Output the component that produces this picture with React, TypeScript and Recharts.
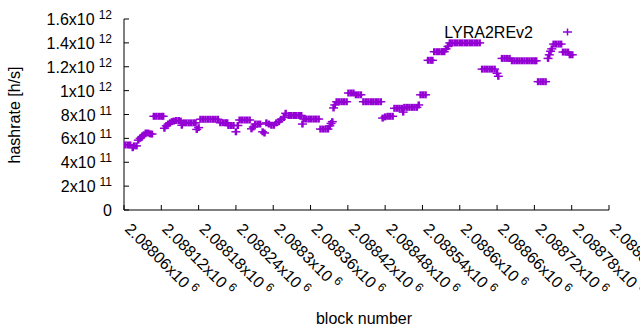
import React from 'react';
import { ScatterChart, Scatter, XAxis, YAxis } from 'recharts';

// gnuplot default first colour
const purple = '#9400d3';

// block numbers and the hashrate (h/s)
const blocks = [
  2088062, 2088066, 2088070, 2088074, 2088076, 2088080,
  2088083, 2088086, 2088089, 2088092, 2088095, 2088099, 2088102, 2088105,
  2088108, 2088112, 2088116, 2088120, 2088123,
  2088125, 2088128, 2088131,
  2088134, 2088137, 2088140, 2088144, 2088148, 2088151, 2088153,
  2088156, 2088160, 2088164, 2088168, 2088172, 2088175,
  2088177, 2088180,
  2088183, 2088187, 2088191, 2088195, 2088199, 2088203, 2088207, 2088211,
  2088215, 2088219, 2088223, 2088226,
  2088228, 2088232, 2088236, 2088240, 2088243,
  2088246, 2088250, 2088254, 2088258, 2088262,
  2088265, 2088268,
  2088271, 2088275, 2088279,
  2088283, 2088286,
  2088289, 2088293, 2088297, 2088301, 2088305, 2088309,
  2088313, 2088317, 2088320,
  2088325, 2088329, 2088333, 2088337, 2088341, 2088345, 2088347,
  2088349, 2088353, 2088357, 2088361, 2088365, 2088369, 2088373,
  2088376, 2088380, 2088384, 2088388,
  2088391, 2088393, 2088395, 2088397, 2088399,
  2088402, 2088406, 2088410, 2088414, 2088418,
  2088421, 2088425, 2088429, 2088433, 2088437, 2088441,
  2088445, 2088449, 2088453, 2088457, 2088461, 2088465, 2088469, 2088473,
  2088476, 2088480, 2088484, 2088488, 2088492,
  2088495, 2088499, 2088503, 2088507, 2088509,
  2088511, 2088515, 2088519, 2088523, 2088527, 2088531, 2088534,
  2088537, 2088541, 2088545,
  2088549, 2088553, 2088556,
  2088559, 2088563, 2088567, 2088571, 2088575, 2088578, 2088581,
  2088584, 2088588, 2088592, 2088596, 2088600, 2088604, 2088608, 2088612,
  2088616, 2088620, 2088624, 2088628, 2088632,
  2088636, 2088640, 2088644, 2088648, 2088652, 2088656, 2088660, 2088662,
  2088668, 2088672, 2088676, 2088680,
  2088684, 2088688, 2088692, 2088696, 2088700, 2088704, 2088708, 2088712,
  2088716, 2088720, 2088723,
  2088726, 2088730, 2088734, 2088738,
  2088742, 2088744, 2088746, 2088748,
  2088751, 2088755, 2088759, 2088763,
  2088766, 2088770, 2088774, 2088777, 2088781,
];

const hashrate = [
  5.45e11, 5.45e11, 5.45e11, 5.22e11, 5.37e11, 5.37e11,
  5.85e11, 6.0e11, 6.15e11, 6.3e11, 6.45e11, 6.45e11, 6.38e11, 6.36e11,
  7.85e11, 7.85e11, 7.85e11, 7.85e11, 7.85e11,
  6.85e11, 7.05e11, 7.2e11,
  7.3e11, 7.4e11, 7.45e11, 7.5e11, 7.5e11, 7.45e11, 7.1e11,
  7.3e11, 7.3e11, 7.3e11, 7.3e11, 7.3e11, 7.3e11,
  6.75e11, 6.9e11,
  7.6e11, 7.6e11, 7.6e11, 7.6e11, 7.6e11, 7.6e11, 7.6e11, 7.6e11,
  7.31e11, 7.31e11, 7.31e11, 7.31e11,
  7.08e11, 7.08e11, 7.08e11, 6.55e11, 7.08e11,
  7.54e11, 7.54e11, 7.54e11, 7.54e11, 7.54e11,
  6.8e11, 6.95e11,
  7.2e11, 7.2e11, 7.2e11,
  6.55e11, 6.45e11,
  7.3e11, 7.2e11, 7.1e11, 7.1e11, 7.3e11, 7.4e11,
  7.6e11, 7.75e11, 8.1e11,
  7.92e11, 7.92e11, 7.92e11, 7.92e11, 7.92e11, 7.92e11, 7.2e11,
  7.62e11, 7.62e11, 7.62e11, 7.62e11, 7.62e11, 7.62e11, 7.62e11,
  6.78e11, 6.78e11, 6.78e11, 6.78e11,
  7.05e11, 7.25e11, 7.4e11, 8.55e11, 8.8e11,
  9.07e11, 9.07e11, 9.07e11, 9.07e11, 9.07e11,
  9.8e11, 9.8e11, 9.8e11, 9.65e11, 9.65e11, 9.65e11,
  9.07e11, 9.07e11, 9.07e11, 9.07e11, 9.07e11, 9.07e11, 9.07e11, 9.07e11,
  7.7e11, 7.8e11, 7.85e11, 7.85e11, 7.85e11,
  8.52e11, 8.52e11, 8.52e11, 8.52e11, 8.2e11,
  8.6e11, 8.6e11, 8.6e11, 8.6e11, 8.6e11, 8.6e11, 8.8e11,
  9.65e11, 9.65e11, 9.65e11,
  1.254e12, 1.254e12, 1.254e12,
  1.326e12, 1.326e12, 1.326e12, 1.326e12, 1.326e12, 1.35e12, 1.37e12,
  1.4e12, 1.4e12, 1.4e12, 1.4e12, 1.4e12, 1.4e12, 1.4e12, 1.4e12,
  1.4e12, 1.4e12, 1.4e12, 1.4e12, 1.4e12,
  1.18e12, 1.18e12, 1.18e12, 1.18e12, 1.18e12, 1.18e12, 1.145e12, 1.12e12,
  1.27e12, 1.27e12, 1.27e12, 1.27e12,
  1.25e12, 1.25e12, 1.25e12, 1.25e12, 1.25e12, 1.25e12, 1.25e12, 1.25e12,
  1.25e12, 1.25e12, 1.25e12,
  1.075e12, 1.075e12, 1.075e12, 1.075e12,
  1.27e12, 1.3e12, 1.33e12, 1.35e12,
  1.39e12, 1.39e12, 1.39e12, 1.39e12,
  1.323e12, 1.323e12, 1.323e12, 1.3e12, 1.3e12,
];

const xTicks = [
  2088060, 2088120, 2088180, 2088240, 2088300, 2088360, 2088420,
  2088480, 2088540, 2088600, 2088660, 2088720, 2088780, 2088840,
];
const yTicks = [0, 2e11, 4e11, 6e11, 8e11, 1e12, 1.2e12, 1.4e12, 1.6e12];

const seriesName = 'LYRA2REv2';

const data = blocks.map((b, i) => ({ block: b, hashrate: hashrate[i] }));

// gnuplot style "2.08806x10^6"
function sci(v: number): [string, string] {
  if (v === 0) return ['0', ''];
  const exp = Math.floor(Math.log10(v));
  const mant = parseFloat((v / Math.pow(10, exp)).toFixed(6));
  return [`${mant}x10`, String(exp)];
}

const YTick = (props: any) => {
  const { x, y, payload } = props;
  const [m, e] = sci(payload.value);
  return (
    <text x={x} y={y + 6} textAnchor="end" fill="#000" fontSize={16}>
      <tspan>{m}</tspan>
      {e && (
        <tspan dx={4} dy={-6} fontSize={12}>
          {e}
        </tspan>
      )}
    </text>
  );
};

const XTick = (props: any) => {
  const { x, y, payload } = props;
  const [m, e] = sci(payload.value);
  return (
    <text x={x} y={y} transform={`rotate(45 ${x} ${y})`} textAnchor="start" fill="#000" fontSize={16}>
      <tspan>{m}</tspan>
      <tspan dx={4} dy={-6} fontSize={12}>
        {e}
      </tspan>
    </text>
  );
};

const NoTick = () => <g />;

const PlusMarker = (props: any) => {
  const { cx, cy } = props;
  if (cx == null || cy == null) return <g />;
  return (
    <g>
      <line x1={cx - 4.5} x2={cx + 4.5} y1={cy} y2={cy} stroke={purple} strokeWidth={1.5} />
      <line x1={cx} x2={cx} y1={cy - 3.5} y2={cy + 3.5} stroke={purple} strokeWidth={2.5} />
    </g>
  );
};

export default function App() {
  return (
    <div
      style={{
        position: 'absolute',
        left: 0,
        top: 0,
        width: 640,
        height: 330,
        background: '#fff',
        fontFamily: '"Liberation Sans", Arial, sans-serif',
        fontSize: 16,
      }}
    >
      <ScatterChart width={640} height={330} margin={{ top: 19, right: 31, bottom: 0, left: 0 }}>
        <XAxis
          xAxisId="b"
          dataKey="block"
          type="number"
          domain={[2088060, 2088840]}
          ticks={xTicks}
          interval={0}
          allowDataOverflow
          height={120}
          tickSize={-5}
          tickMargin={25}
          tick={XTick}
          axisLine={{ stroke: '#000' }}
          tickLine={{ stroke: '#000' }}
        />
        <XAxis
          xAxisId="t"
          orientation="top"
          type="number"
          domain={[2088060, 2088840]}
          ticks={xTicks}
          interval={0}
          allowDataOverflow
          height={0}
          tickSize={-5}
          tick={NoTick}
          axisLine={{ stroke: '#000' }}
          tickLine={{ stroke: '#000' }}
        />
        <YAxis
          yAxisId="l"
          dataKey="hashrate"
          type="number"
          domain={[0, 1.6e12]}
          ticks={yTicks}
          interval={0}
          allowDataOverflow
          width={124}
          tickSize={-5}
          tickMargin={17}
          tick={YTick}
          axisLine={{ stroke: '#000' }}
          tickLine={{ stroke: '#000' }}
        />
        <YAxis
          yAxisId="r"
          orientation="right"
          type="number"
          domain={[0, 1.6e12]}
          ticks={yTicks}
          interval={0}
          allowDataOverflow
          width={0}
          tickSize={-5}
          tick={NoTick}
          axisLine={{ stroke: '#000' }}
          tickLine={{ stroke: '#000' }}
        />
        <Scatter
          name={seriesName}
          data={data}
          xAxisId="b"
          yAxisId="l"
          dataKey="hashrate"
          shape={PlusMarker}
          isAnimationActive={false}
        />
      </ScatterChart>
      <svg
        width={640}
        height={330}
        style={{ position: 'absolute', left: 0, top: 0, pointerEvents: 'none' }}
      >
        <text x={533} y={38} textAnchor="end" fill="#000" fontSize={16}>
          {seriesName}
        </text>
        <line x1={563} x2={572} y1={32} y2={32} stroke={purple} strokeWidth={1.5} />
        <line x1={567.5} x2={567.5} y1={28.5} y2={35.5} stroke={purple} strokeWidth={1.5} />
        <text x={364} y={324} textAnchor="middle" fill="#000" fontSize={16}>
          block number
        </text>
        <text x={20} y={115} transform="rotate(-90 20 115)" textAnchor="middle" fill="#000" fontSize={16}>
          hashrate [h/s]
        </text>
      </svg>
    </div>
  );
}
